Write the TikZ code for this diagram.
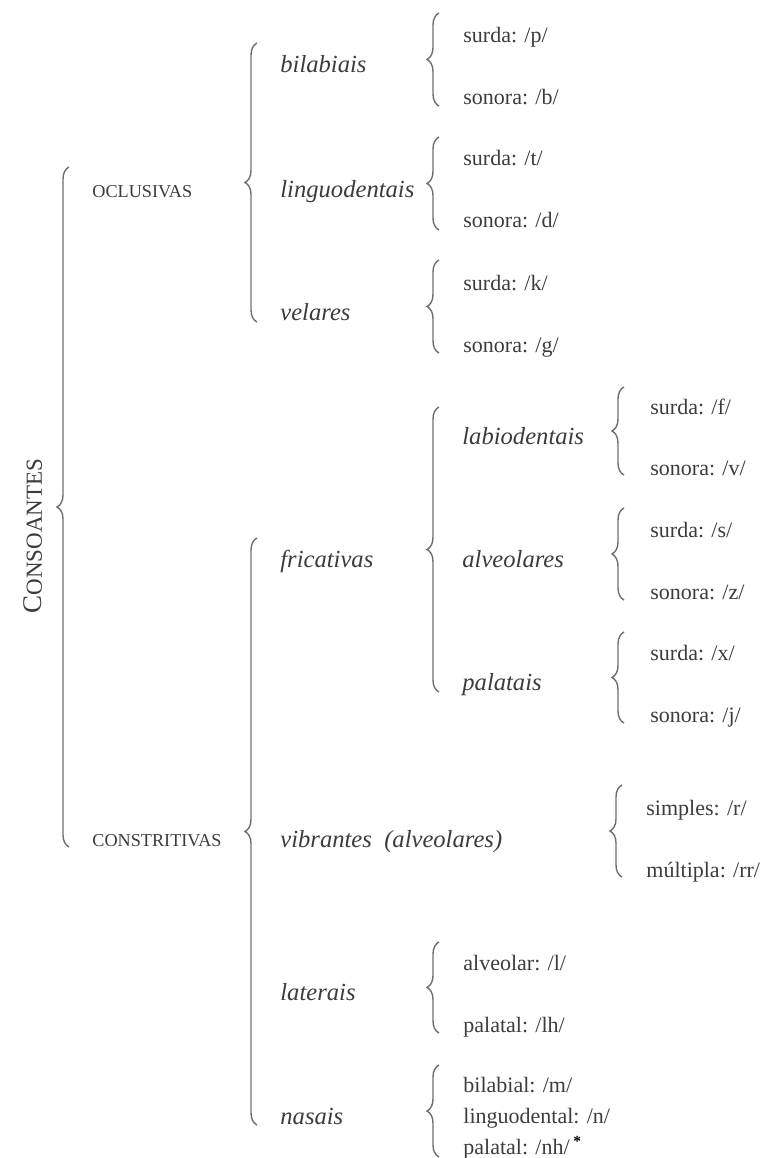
\documentclass[tikz,border=0pt]{standalone}
\usepackage{fontspec}
\setmainfont{Liberation Serif}
\usetikzlibrary{decorations.pathreplacing}
\definecolor{texto}{HTML}{3C3C3C}
\definecolor{linha}{HTML}{6E6E6E}
\tikzset{
    chave/.style = {draw=linha, line width=0.7pt, decorate, decoration={brace, amplitude=6pt}},
    folha/.style = {anchor=west, inner sep=0pt, text=texto, text height=9pt, text depth=2pt, font=\fontsize{11}{13}\selectfont},
    classe/.style = {anchor=west, inner sep=0pt, text=texto, text height=9pt, text depth=2pt, font=\fontsize{12.3}{14}\selectfont\itshape},
    modo/.style = {anchor=west, inner sep=0pt, text=texto, text height=8pt, text depth=2pt, font=\fontsize{9.1}{11}\selectfont},
}

\begin{document}
\begin{tikzpicture}[x=0.5pt, y=-0.5pt]
\useasboundingbox (0,0) rectangle (763,1158);

% nivel 0
\node[rotate=90, text=texto, inner sep=0pt] (cons) at (33,536) {\fontsize{13.5}{15}\selectfont C\fontsize{11.5}{13}\selectfont ONSOANTES};
\draw[chave] (69,847) -- (69,167);

\node[modo] (ocl) at (92,191) {OCLUSIVAS};
\node[modo] (con) at (92,840) {CONSTRITIVAS};

% oclusivas
\draw[chave] (257,322) -- (257,43);
\node[classe] (bil) at (280,65) {bilabiais};
\node[classe] (lin) at (280,190) {linguodentais};
\node[classe] (vel) at (280,313) {velares};

\draw[chave] (439,106) -- (439,13);
\node[folha] (sp) at (463,35) {surda: /p/};
\node[folha] (sb) at (463,97) {sonora: /b/};

\draw[chave] (439,230) -- (439,137);
\node[folha] (st) at (463,158) {surda: /t/};
\node[folha] (sd) at (463,220) {sonora: /d/};

\draw[chave] (439,353) -- (439,260);
\node[folha] (sk) at (463,283) {surda: /k/};
\node[folha] (sg) at (463,345) {sonora: /g/};

% constritivas
\draw[chave] (257,1125) -- (257,538);
\node[classe] (fri) at (280,560) {fricativas};
\node[classe] (vib) at (280,840) {vibrantes\ \ (alveolares)};
\node[classe] (lat) at (280,993) {laterais};
\node[classe] (nas) at (280,1117) {nasais};

% fricativas
\draw[chave] (439,692) -- (439,407);
\node[classe] (lab) at (462,437) {labiodentais};
\node[classe] (alv) at (462,560) {alveolares};
\node[classe] (pal) at (462,683) {palatais};

\draw[chave] (624,475) -- (624,387);
\node[folha] (sf) at (650,407) {surda: /f/};
\node[folha] (sv) at (650,468) {sonora: /v/};

\draw[chave] (624,600) -- (624,508);
\node[folha] (ss) at (650,530) {surda: /s/};
\node[folha] (sz) at (650,592) {sonora: /z/};

\draw[chave] (624,723) -- (624,632);
\node[folha] (sx) at (650,653) {surda: /x/};
\node[folha] (sj) at (650,715) {sonora: /j/};

% vibrantes
\draw[chave] (622,877) -- (622,785);
\node[folha] (rs) at (646,808) {simples: /r/};
\node[folha] (rm) at (646,870) {múltipla: /rr/};

% laterais
\draw[chave] (439,1033) -- (439,942);
\node[folha] (ll) at (463,963) {alveolar: /l/};
\node[folha] (llh) at (463,1025) {palatal: /lh/};

% nasais
\draw[chave] (439,1157) -- (439,1065);
\node[folha] (nm) at (463,1085) {bilabial: /m/};
\node[folha] (nn) at (463,1116) {linguodental: /n/};
\node[folha] (nnh) at (463,1147) {palatal: /nh/\,\textsuperscript{\textcolor{black}{\textbf{*}}}};
\end{tikzpicture}
\end{document}
